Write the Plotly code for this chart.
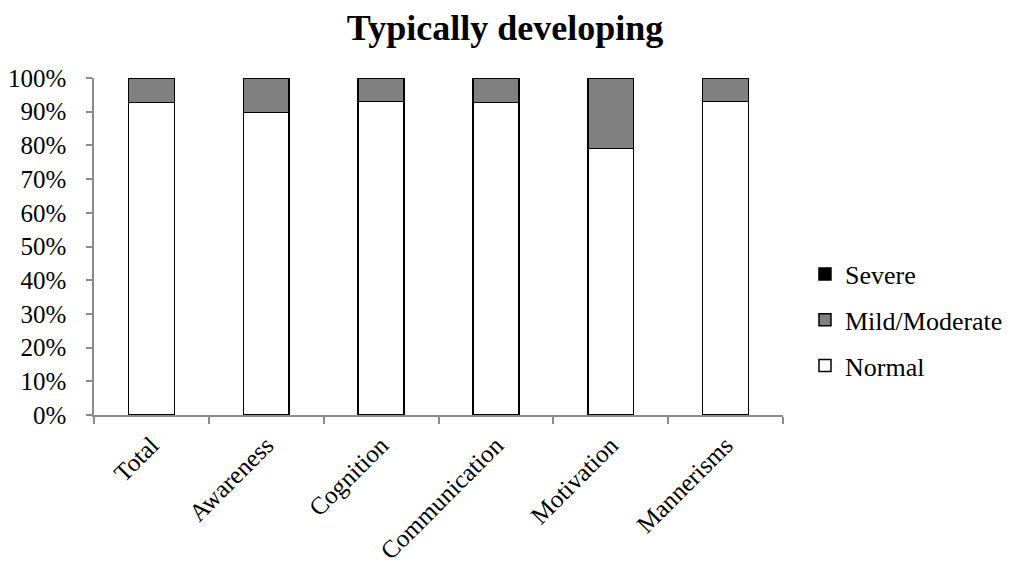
import plotly.graph_objects as go

categories = ["Total", "Awareness", "Cognition", "Communication", "Motivation", "Mannerisms"]
normal = [92.8, 89.8, 93.0, 92.7, 79.1, 93.1]
mild_moderate = [7.2, 10.2, 7.0, 7.3, 20.9, 6.9]
severe = [0, 0, 0, 0, 0, 0]
y_ticks = [0, 10, 20, 30, 40, 50, 60, 70, 80, 90, 100]
y_tick_labels = [f"{v}%" for v in y_ticks]

font_family = "Liberation Serif, Times New Roman, serif"

fig = go.Figure()
fig.add_trace(go.Bar(
    name="Normal", x=categories, y=normal, legendgroup="normal", legendrank=3,
    marker=dict(color="white", line=dict(color="black", width=1.5)),
))
fig.add_trace(go.Bar(
    name="Mild/Moderate", x=categories, y=mild_moderate, legendgroup="mild", legendrank=2,
    marker=dict(color="#808080", line=dict(color="black", width=1.5)),
))
fig.add_trace(go.Bar(
    name="Severe", x=categories, y=severe, legendgroup="severe", legendrank=1,
    marker=dict(color="black", line=dict(color="black", width=1.5)),
))

fig.update_layout(
    width=1010, height=567,
    margin=dict(l=94, r=227, t=78, b=152),
    barmode="stack",
    bargap=0.6,
    paper_bgcolor="white",
    plot_bgcolor="white",
    font=dict(family=font_family, size=25, color="black"),
    title=dict(
        text="<b>Typically developing</b>",
        x=0.5, xref="container", xanchor="center",
        y=1 - 27 / 567, yref="container", yanchor="middle",
        font=dict(family=font_family, size=36, color="black"),
    ),
    showlegend=True,
    legend=dict(
        traceorder="grouped",
        xref="container", yref="container",
        x=0.797, xanchor="left",
        y=1 - 320 / 567, yanchor="middle",
        font=dict(family=font_family, size=26, color="black"),
        itemwidth=30,
        tracegroupgap=9,
    ),
)

fig.update_xaxes(
    type="category",
    automargin=False,
    showline=True, linecolor="#8c8c8c", linewidth=1.5,
    ticks="outside", tickson="boundaries", ticklen=7, tickcolor="#8c8c8c", tickwidth=1.5,
    tickangle=-45,
    ticklabelstandoff=4,
    showgrid=False,
    tickfont=dict(family=font_family, size=25, color="black"),
)
fig.update_yaxes(
    range=[0, 100],
    automargin=False,
    tickvals=y_ticks, ticktext=y_tick_labels,
    showline=True, linecolor="#8c8c8c", linewidth=1.5,
    ticks="outside", ticklen=6, tickcolor="#8c8c8c", tickwidth=1.5,
    ticklabelstandoff=15,
    showgrid=False, zeroline=False,
    tickfont=dict(family=font_family, size=25, color="black"),
)

fig.write_html("out.html")
